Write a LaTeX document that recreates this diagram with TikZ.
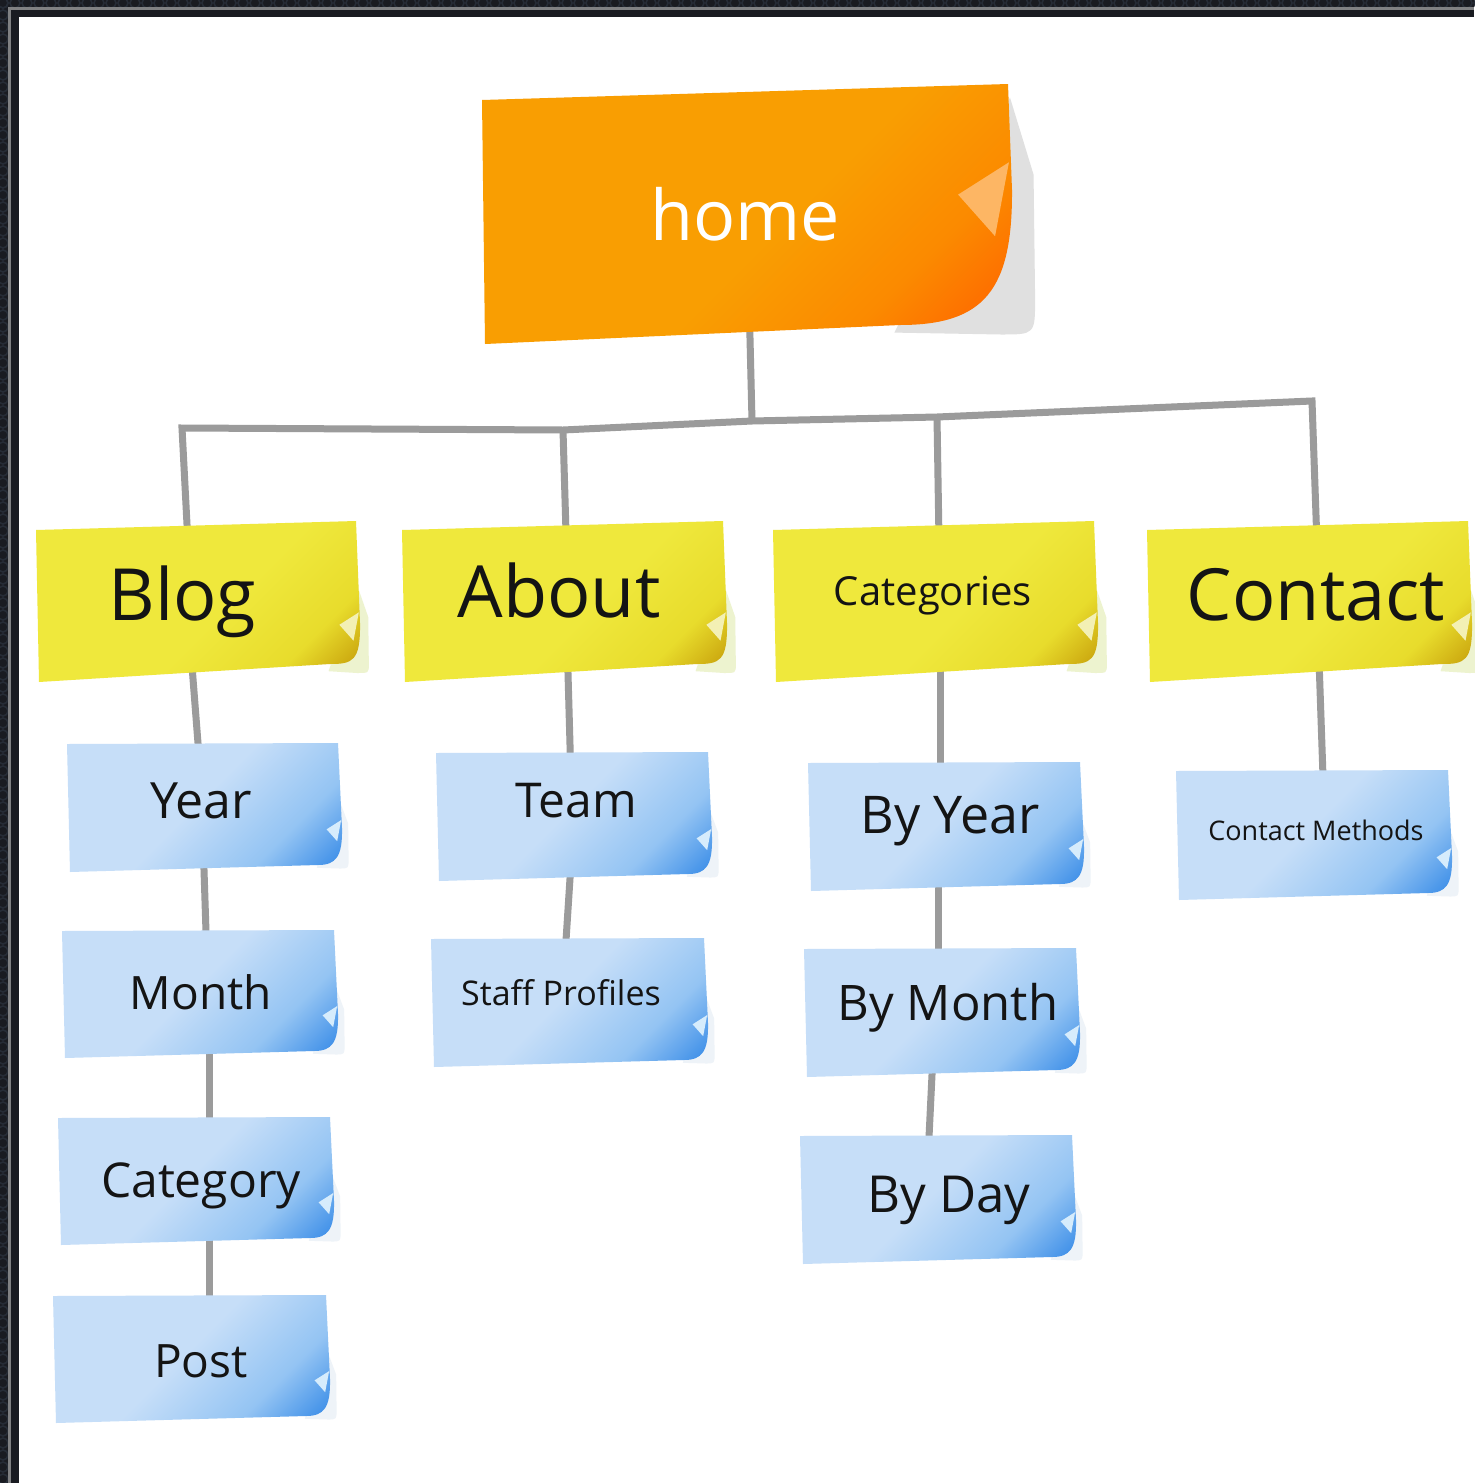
\documentclass[tikz,border=0pt]{standalone}
\usepackage{fontspec}
\setmainfont{Open Sans}
\usetikzlibrary{calc}
\definecolor{framedark}{HTML}{191B21}
\definecolor{framering}{HTML}{262C36}
\definecolor{framegray}{HTML}{808183}
\definecolor{linegray}{HTML}{9B9B9B}
\definecolor{ink}{HTML}{141414}
\definecolor{ylight}{HTML}{EFE83C}
\definecolor{ymid}{HTML}{E8DC2C}
\definecolor{ydark}{HTML}{C49A08}
\definecolor{blight}{HTML}{C6DEF8}
\definecolor{bmid}{HTML}{94C4F3}
\definecolor{bdark}{HTML}{3E8FE8}
\definecolor{olight}{HTML}{F99E02}
\definecolor{omid}{HTML}{FB8A00}
\definecolor{odark}{HTML}{FF6400}
\definecolor{yfoldc}{HTML}{F3F0B4}
\definecolor{bfoldc}{HTML}{D6ECFC}
\definecolor{ofoldc}{HTML}{FDB664}
\definecolor{yshadowc}{HTML}{EDF3CF}
\definecolor{bshadowc}{HTML}{EEF3F8}
\definecolor{oshadowc}{HTML}{E0E0E0}
\pgfdeclareverticalshading{yellowpaper}{100bp}{color(0bp)=(ydark); color(16bp)=(ydark); color(28bp)=(ymid); color(45bp)=(ylight); color(100bp)=(ylight)}
\pgfdeclareverticalshading{bluepaper}{100bp}{color(0bp)=(bdark); color(17bp)=(bdark); color(31bp)=(bmid); color(52bp)=(blight); color(100bp)=(blight)}
\pgfdeclareverticalshading{orangepaper}{100bp}{color(0bp)=(odark); color(17bp)=(odark); color(30bp)=(omid); color(46bp)=(olight); color(100bp)=(olight)}
\pgfdeclarelayer{back}
\pgfdeclarelayer{links}
\pgfdeclarelayer{paper}
\pgfsetlayers{back,links,paper,main}
\tikzset{
  conn/.style={draw=linegray, line width=3.5pt, line join=miter, line cap=butt},
  notebox/.style={inner sep=0pt, outer sep=0pt, text=ink, align=center},
  ypaper/.style={shade, shading=yellowpaper, shading angle=45},
  bpaper/.style={shade, shading=bluepaper, shading angle=45},
  opaper/.style={shade, shading=orangepaper, shading angle=45},
  yfold/.style={fill=yfoldc},
  bfold/.style={fill=bfoldc},
  ofold/.style={fill=ofoldc},
  yshadow/.style={fill=yshadowc},
  bshadow/.style={fill=bshadowc},
  oshadow/.style={fill=oshadowc},
}
% #1 name, #2-#5 L T R B (px), #6 font size, #7 horizontal text shift, #8 raise, #9 text
\newcommand\note[9]{%
  \pgfmathsetmacro\nw{(#4-#2)*0.5}%
  \pgfmathsetmacro\nh{(#5-#3)*0.5}%
  \pgfmathsetmacro\nth{0.76*#6}%
  \pgfmathsetmacro\ntd{0.24*#6}%
  \node[notebox, minimum width=\nw pt, minimum height=\nh pt, text height=\nth pt, text depth=\ntd pt,
        font=\fontsize{#6}{#6}\selectfont] (#1) at ({(#2+#4)/2},{(#3+#5)/2}) {\hspace*{#7pt}\raisebox{#8pt}{#9}};}
% #1 name, #2 prefix, #3 tilt, #4 curl height, #5 curl width, #6 bottom rise
\newcommand\paper[6]{%
  \begin{pgfonlayer}{paper}
  \fill[#2shadow] let \p2=(#1.south east) in
    (\x2-1pt,\y2+1.6*#4) -- (\x2+0.14*#4,\y2+1.1*#4) -- (\x2+0.15*#4,\y2+0.3*#4)
    .. controls (\x2+0.15*#4,\y2+0.5*#6) .. (\x2-0.1*#5,\y2+0.5*#6) -- (\x2-1.05*#5,\y2+0.6*#6) -- cycle;
  \path[#2paper] let \p1=(#1.north west), \p2=(#1.south east) in
    (\x1,\y1-#3) -- (\x2-2pt,\y1) -- (\x2,\y2+#4)
    .. controls (\x2+0.3pt,\y2+0.35*#4) and (\x2-0.25*#5,\y2+#6) .. (\x2-#5,\y2+#6)
    -- (\x1+1.5pt,\y2) -- cycle;
  \fill[#2fold] let \p2=(#1.south east) in
    (\x2-0.35*#4,\y2+0.97*#4) -- (\x2-0.02*#4,\y2+1.18*#4) -- (\x2-0.11*#4,\y2+0.7*#4) -- cycle;
  \end{pgfonlayer}}
\begin{document}
\begin{tikzpicture}[x=0.5pt, y=-0.5pt]
\useasboundingbox (0,0) rectangle (1474,1483);
\begin{pgfonlayer}{back}
  \fill[framedark] (0,0) rectangle (1474,1483);
  \foreach \i in {0,...,123} \draw[framering, line width=0.8pt] (\i*12+3,3) circle (5);
  \foreach \i in {0,...,124} \draw[framering, line width=0.8pt] (3,\i*12+3) circle (5);
  \fill[white] (19,17) rectangle (1474,1483);
  \draw[framegray, line width=1.5pt] (9.5,1483) -- (9.5,8.5) -- (1474,8.5);
\end{pgfonlayer}

\note{home}{482}{84}{1012}{344}{35}{-2}{-4}{\color{white}home}
\note{blog}{36}{521}{360}{682}{36}{-15.5}{0}{Blog}
\note{about}{402}{521}{727}{682}{36}{-5.5}{1.5}{About}
\note{categories}{773}{521}{1098}{682}{20}{-2.5}{3}{Categories}
\note{contact}{1147}{521}{1472}{682}{36}{6.5}{0}{Contact}
\note{year}{67}{743}{342}{872}{25}{-3.5}{1}{Year}
\note{month}{62}{930}{338}{1058}{23}{1}{-2}{Month}
\note{category}{58}{1117}{334}{1245}{24}{5}{-2}{Category}
\note{post}{53}{1295}{330}{1423}{23}{9.5}{-3.5}{Post}
\note{team}{436}{752}{712}{881}{24}{2}{5.5}{Team}
\note{staff}{431}{938}{708}{1067}{17}{-8.5}{3}{Staff Profiles}
\note{byyear}{808}{762}{1084}{891}{26}{4}{3.5}{By Year}
\note{bymonth}{804}{948}{1080}{1077}{24.5}{6}{2.5}{By Month}
\note{byday}{800}{1135}{1076}{1264}{25.5}{11}{0}{By Day}
\note{cmethods}{1176}{770}{1452}{900}{13.5}{2}{1}{Contact Methods}

\paper{home}{o}{8pt}{77pt}{56pt}{9.5pt}
\paper{blog}{y}{4.5pt}{29.5pt}{15pt}{9pt}
\paper{about}{y}{4.5pt}{29.5pt}{15pt}{9pt}
\paper{categories}{y}{4.5pt}{29.5pt}{15pt}{9pt}
\paper{contact}{y}{4.5pt}{29.5pt}{15pt}{9pt}
\paper{year}{b}{0.5pt}{22pt}{12pt}{3.5pt}
\paper{month}{b}{0.5pt}{22pt}{12pt}{3.5pt}
\paper{category}{b}{0.5pt}{22pt}{12pt}{3.5pt}
\paper{post}{b}{0.5pt}{22pt}{12pt}{3.5pt}
\paper{team}{b}{0.5pt}{22pt}{12pt}{3.5pt}
\paper{staff}{b}{0.5pt}{22pt}{12pt}{3.5pt}
\paper{byyear}{b}{0.5pt}{22pt}{12pt}{3.5pt}
\paper{bymonth}{b}{0.5pt}{22pt}{12pt}{3.5pt}
\paper{byday}{b}{0.5pt}{22pt}{12pt}{3.5pt}
\paper{cmethods}{b}{0.5pt}{22pt}{12pt}{3.5pt}

\coordinate (jb) at (182,428);
\coordinate (ja) at (563,430);
\coordinate (jh) at (752,421);
\coordinate (jc) at (937,417);
\coordinate (jt) at (1312,401);

\begin{pgfonlayer}{links}
  % bar and drops from home
  \draw[conn] ([xshift=-3.5pt]blog.center) -- (jb) -- (ja) -- (jh) -- (jc) -- (jt) -- ([xshift=4.75pt]contact.center);
  \draw[conn] (home.center) -- (jh);
  \draw[conn] (ja) -- ([xshift=1.75pt]about.center);
  \draw[conn] (jc) -- ([xshift=2.25pt]categories.center);
  % Blog column
  \draw[conn] ([xshift=-5.5pt]blog.center) -- ([xshift=-0.75pt]year.center);
  \draw[conn] ([xshift=-1.25pt]year.center) -- ([xshift=4pt]month.center);
  \draw[conn] ([xshift=4.5pt]month.center) -- ([xshift=6.5pt]category.center);
  \draw[conn] ([xshift=6.5pt]category.center) -- ([xshift=8.75pt]post.center);
  % About column
  \draw[conn] ([xshift=0.75pt]about.center) -- ([xshift=-1pt]team.center);
  \draw[conn] (team.center) -- ([xshift=-3.75pt]staff.center);
  % Categories column
  \draw[conn] ([xshift=2.25pt]categories.center) -- ([xshift=-3pt]byyear.center);
  \draw[conn] ([xshift=-4pt]byyear.center) -- ([xshift=-2pt]bymonth.center);
  \draw[conn] ([xshift=-3.5pt]bymonth.center) -- ([xshift=-6pt]byday.center);
  % Contact column
  \draw[conn] ([xshift=3.75pt]contact.center) -- ([xshift=5.5pt]cmethods.center);
\end{pgfonlayer}
\end{tikzpicture}
\end{document}
